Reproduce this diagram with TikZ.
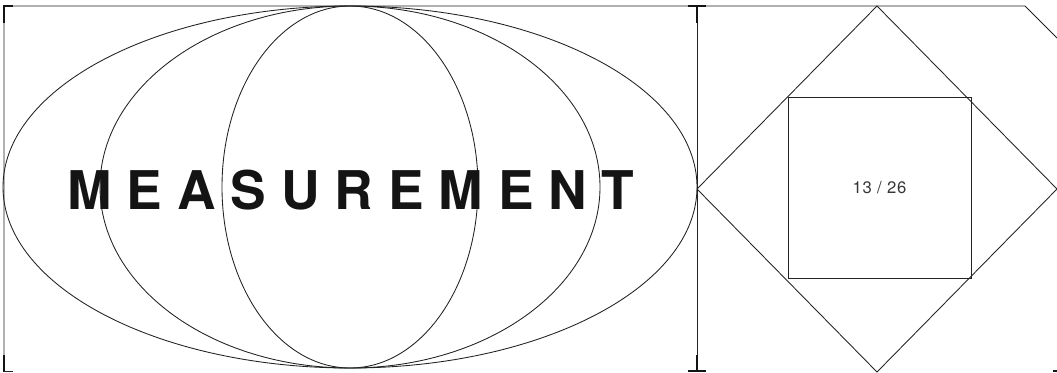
\documentclass[tikz,border=0pt]{standalone}
\usepackage{fontspec}
\setmainfont{TeX Gyre Heros}
\usetikzlibrary{positioning}
\definecolor{ink}{RGB}{20,20,20}
\definecolor{rule}{RGB}{35,35,35}
\tikzset{
  thin line/.style={draw=rule,line width=0.65pt},
  tick/.style={draw=ink,line width=2.2pt},
  title/.style={font=\fontsize{40}{40}\selectfont\bfseries\addfontfeature{LetterSpace=28},text=ink,inner sep=0pt},
  pagelbl/.style={font=\fontsize{12.5}{12.5}\selectfont\addfontfeature{LetterSpace=4},text=ink!85,inner sep=0pt},
}
\begin{document}
\begin{tikzpicture}[x=0.75pt,y=-0.75pt]
\useasboundingbox (0,0) rectangle (1057,372);
% ---- frame ----
\coordinate (tl) at (4,6);
\coordinate (bl) at (4,371);
\coordinate (tm) at (697,6);
\coordinate (bm) at (697,371);
\coordinate (tr) at (1025,6);
\coordinate (rc) at (1057,38);
\draw[thin line] (bl) -- (tl) -- (tm) -- (tr) -- (rc);
\draw[thin line] (tm) -- (bm);
% ---- ticks ----
\draw[tick] (4,5) -- (4,23);
\draw[tick] (3,6) -- (13,6);
\draw[tick] (4,355) -- (4,372);
\draw[thin line] (4,371) -- (13,371);
\draw[tick] (697,6) -- (697,23);
\draw[tick] (688,6) -- (706,6);
\draw[tick] (697,355) -- (697,371);
\draw[tick] (688,371) -- (706,371);
\draw[tick] (1053,371) -- (1057,371);
% ---- ellipses ----
\coordinate (c) at (350,187);
\draw[thin line] (c) ellipse [x radius=347,y radius=181];
\draw[thin line] (c) ellipse [x radius=250,y radius=181];
\draw[thin line] (c) ellipse [x radius=128,y radius=181];
\node[title] (word) at (351,190) {MEASUREMENT};
% ---- diamond and square ----
\coordinate (d) at (877,189);
\draw[thin line] (697,189) -- (877,6) -- (1057,189) -- (877,372) -- cycle;
\node[thin line,minimum width=183*0.75pt,minimum height=181*0.75pt,inner sep=0pt] (sq) at (879.5,187.5) {};
\node[pagelbl] (page) at (sq.center) {13 / 26};
\end{tikzpicture}
\end{document}
